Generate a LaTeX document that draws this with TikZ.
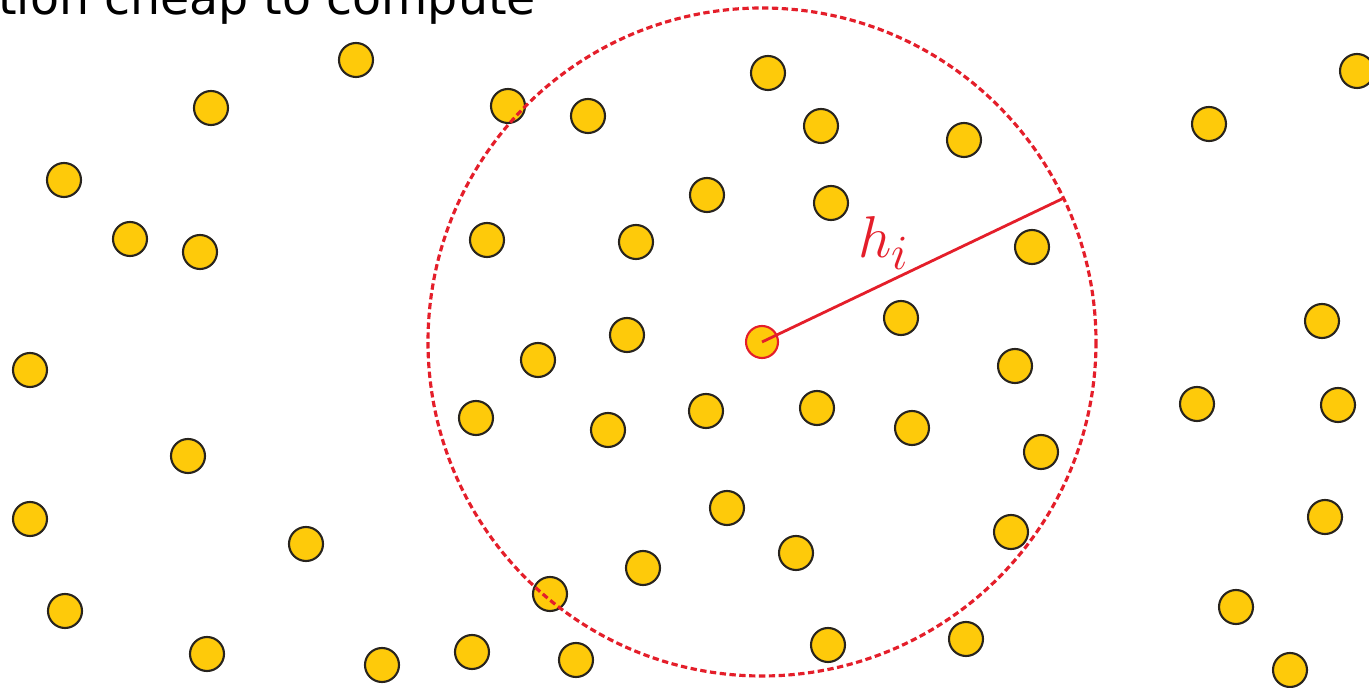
\documentclass[tikz,border=0pt]{standalone}
\usepackage{fontspec}
\newfontfamily\slidefont{DejaVu Sans}
\usetikzlibrary{calc}
\definecolor{partyellow}{RGB}{254,202,10}
\definecolor{partedge}{RGB}{40,36,30}
\definecolor{kernred}{RGB}{228,30,42}
\tikzset{particle/.style={fill=partyellow,draw=partedge,line width=1.2pt}}
\tikzset{kernel/.style={draw=kernred,line width=1.8pt,dash pattern=on 3.6pt off 2pt}}
\begin{document}
\begin{tikzpicture}[x=0.02cm,y=-0.02cm]
\useasboundingbox(0,0)rectangle(1369,688);
\begin{scope}
\clip(0,0)rectangle(1369,688);
\node[anchor=base west,inner sep=0pt,font=\slidefont\fontsize{27}{32}\selectfont] (title) at(-2,15){tion cheap to compute};
% particles
\foreach \px/\py in {356/60,211/108,508/106,588/116,768/73,821/126,964/140,1209/124,1357/71,64/180,707/195,831/203,130/239,200/252,487/240,636/242,1032/247,901/318,1322/321,627/335,30/370,538/360,1015/366,476/418,608/430,706/411,817/408,912/428,1197/404,1338/405,188/456,1041/452,30/519,727/508,1325/517,306/544,1011/532,796/553,643/568,550/594,65/611,1236/607,207/654,472/652,382/665,576/660,828/645,966/639,1290/670}
  \filldraw[particle](\px,\py)circle(17);
% smoothing kernel
\coordinate (c) at(762,342);
\coordinate (e) at($(c)+(-25.5:334)$);
\draw[kernel](c)circle(334);
\filldraw[particle,draw=kernred](c)circle(16);
\draw[kernred,line width=1.6pt](c)--(e);
\node[text=kernred,font=\fontsize{24.88}{28}\selectfont,scale=1.35] (h) at(884,243){$h_i$};
\end{scope}
\end{tikzpicture}
\end{document}
